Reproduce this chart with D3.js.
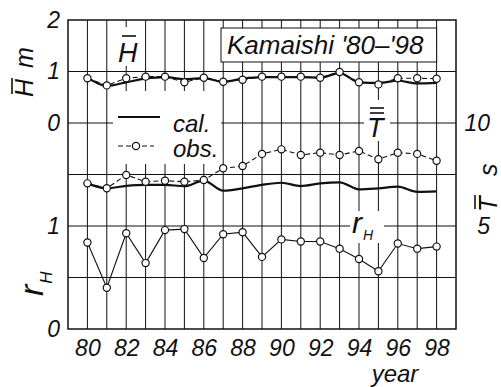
<!DOCTYPE html>
<html>
<head>
<meta charset="utf-8">
<script src="https://cdn.jsdelivr.net/npm/d3@7"></script>
<style>
  body { margin: 0; background: #fff; }
  svg { display: block; }
  text { font-family: "Liberation Sans", Arial, sans-serif; font-style: italic; fill: #111; }
</style>
</head>
<body>
<svg id="chart" width="501" height="387"></svg>
<script>
// data
const years = [80, 81, 82, 83, 84, 85, 86, 87, 88, 89, 90, 91, 92, 93, 94, 95, 96, 97, 98];
const hCal = [0.88, 0.72, 0.79, 0.86, 0.89, 0.85, 0.87, 0.80, 0.86, 0.89, 0.89, 0.89, 0.88, 0.97, 0.79, 0.78, 0.82, 0.77, 0.78];
const hObs = [0.87, 0.73, 0.87, 0.90, 0.90, 0.79, 0.88, 0.80, 0.84, 0.90, 0.90, 0.90, 0.88, 0.99, 0.79, 0.75, 0.87, 0.87, 0.86];
const tCal = [7.07, 6.83, 6.95, 7.0, 7.0, 6.93, 7.2, 6.71, 6.83, 7.0, 7.1, 6.94, 7.07, 7.12, 6.78, 6.83, 6.91, 6.66, 6.68];
const tObs = [7.07, 6.83, 7.48, 7.15, 7.2, 7.15, 7.23, 7.8, 7.91, 8.5, 8.72, 8.45, 8.56, 8.45, 8.64, 8.24, 8.56, 8.5, 8.17];
const rH = [0.84, 0.40, 0.93, 0.64, 0.96, 0.97, 0.69, 0.92, 0.94, 0.70, 0.87, 0.85, 0.85, 0.78, 0.68, 0.56, 0.83, 0.78, 0.80];

const xTicks = [80, 82, 84, 86, 88, 90, 92, 94, 96, 98];
const hTicks = [0, 1, 2];
const rTicks = [0, 1];
const tTicks = [5, 10];

const svg = d3.select("#chart");

const x = d3.scaleLinear().domain([79, 99]).range([68, 456]);
const yH = d3.scaleLinear().domain([0, 2]).range([123, 20]);
const yT = d3.scaleLinear().domain([0, 10]).range([329, 123]);
const yR = d3.scaleLinear().domain([0, 1]).range([329, 226]);

const xLeft = x.range()[0], xRight = x.range()[1], yTop = yH(2), yBottom = yR(0);
const fmt = d3.format("d");

// grid
const grid = svg.append("g").attr("stroke", "#111");
grid.selectAll("line.v")
  .data(years)
  .enter().append("line")
    .attr("x1", d => x(d)).attr("x2", d => x(d))
    .attr("y1", yTop).attr("y2", yBottom)
    .attr("stroke-width", 1);

const hLines = [yH(1), yH(0), yT(7.5), yT(5), yR(0.5)];
grid.selectAll("line.h")
  .data(hLines)
  .enter().append("line")
    .attr("x1", xLeft).attr("x2", xRight)
    .attr("y1", d => d).attr("y2", d => d)
    .attr("stroke-width", 1.2);

svg.append("rect")
  .attr("x", xLeft).attr("y", yTop)
  .attr("width", xRight - xLeft).attr("height", yBottom - yTop)
  .attr("fill", "none").attr("stroke", "#111").attr("stroke-width", 1.5);

// white patches behind labels
const patch = (x0, y0, w, h, border) => svg.append("rect")
  .attr("x", x0).attr("y", y0).attr("width", w).attr("height", h)
  .attr("fill", "#fff")
  .attr("stroke", border ? "#111" : "none").attr("stroke-width", 1);

patch(221, 28, x(98) - 221, 34, true);
patch(113, 27, 28, 39);
patch(113, 91, 108, 73);
patch(364, 100, 26, 41);
patch(350, 211, 34, 32);

// series
const lineCal = (yS, vals) => d3.line()
  .x((d, i) => x(years[i]))
  .y(d => yS(d))
  .curve(d3.curveMonotoneX)(vals);
const lineStraight = (yS, vals) => d3.line()
  .x((d, i) => x(years[i]))
  .y(d => yS(d))(vals);

svg.append("path").attr("d", lineCal(yH, hCal))
  .attr("fill", "none").attr("stroke", "#111").attr("stroke-width", 2.2);
svg.append("path").attr("d", lineCal(yT, tCal))
  .attr("fill", "none").attr("stroke", "#111").attr("stroke-width", 2.2);

svg.append("path").attr("d", lineStraight(yH, hObs))
  .attr("fill", "none").attr("stroke", "#111").attr("stroke-width", 1.1)
  .attr("stroke-dasharray", "5,3");
svg.append("path").attr("d", lineStraight(yT, tObs))
  .attr("fill", "none").attr("stroke", "#111").attr("stroke-width", 1.1)
  .attr("stroke-dasharray", "5,3");
svg.append("path").attr("d", lineStraight(yR, rH))
  .attr("fill", "none").attr("stroke", "#111").attr("stroke-width", 1.1);

const dots = (yS, vals) => svg.append("g")
  .selectAll("circle")
  .data(vals)
  .enter().append("circle")
    .attr("cx", (d, i) => x(years[i]))
    .attr("cy", d => yS(d))
    .attr("r", 3.6)
    .attr("fill", "#fff").attr("stroke", "#111").attr("stroke-width", 1.2);

dots(yH, hObs);
dots(yT, tObs);
dots(yR, rH);

// axes (labels only)
const styleAxis = g => {
  g.select(".domain").remove();
  g.selectAll("line").remove();
  g.selectAll("text").attr("font-size", 23).attr("font-family", null);
};

svg.append("g")
  .attr("transform", `translate(0,${yBottom})`)
  .call(d3.axisBottom(x).tickValues(xTicks).tickFormat(fmt).tickSize(0).tickPadding(11))
  .call(styleAxis);

svg.append("g")
  .attr("transform", `translate(${xLeft},0)`)
  .call(d3.axisLeft(yH).tickValues(hTicks).tickFormat(fmt).tickSize(0).tickPadding(8))
  .call(styleAxis);

svg.append("g")
  .attr("transform", `translate(${xLeft},0)`)
  .call(d3.axisLeft(yR).tickValues(rTicks).tickFormat(fmt).tickSize(0).tickPadding(8))
  .call(styleAxis);

svg.append("g")
  .attr("transform", `translate(${xRight},0)`)
  .call(d3.axisRight(yT).tickValues(tTicks).tickFormat(fmt).tickSize(0).tickPadding(0))
  .call(styleAxis)
  .call(g => g.selectAll("text").attr("text-anchor", "end").attr("x", 34));

svg.append("text")
  .attr("x", 395).attr("y", 382)
  .attr("text-anchor", "middle")
  .attr("font-size", 24)
  .text("year");

// title
svg.append("text")
  .attr("x", 227).attr("y", 54)
  .attr("font-size", 26)
  .text("Kamaishi '80\u2013'98");

// in-plot labels
svg.append("text").attr("x", 118).attr("y", 62).attr("font-size", 27).text("H");
svg.append("line").attr("x1", 122).attr("x2", 136).attr("y1", 36).attr("y2", 36)
  .attr("stroke", "#111").attr("stroke-width", 1.6);

svg.append("text").attr("x", 367).attr("y", 137).attr("font-size", 27).text("T");
[108, 113].forEach(yy => svg.append("line")
  .attr("x1", 370).attr("x2", 384).attr("y1", yy).attr("y2", yy)
  .attr("stroke", "#111").attr("stroke-width", 1.6));

const rLab = svg.append("text").attr("x", 352).attr("y", 233).attr("font-size", 30);
rLab.append("tspan").text("r");
rLab.append("tspan").attr("font-size", 14).attr("dy", 7).attr("dx", 1).text("H");

// legend
svg.append("line").attr("x1", 118).attr("x2", 160).attr("y1", 117).attr("y2", 117)
  .attr("stroke", "#111").attr("stroke-width", 2.2);
svg.append("text").attr("x", 173).attr("y", 132).attr("font-size", 24).text("cal.");
svg.append("line").attr("x1", 118).attr("x2", 154).attr("y1", 146).attr("y2", 146)
  .attr("stroke", "#111").attr("stroke-width", 1.1).attr("stroke-dasharray", "5,3");
svg.append("circle").attr("cx", 136).attr("cy", 146).attr("r", 3.6)
  .attr("fill", "#fff").attr("stroke", "#111").attr("stroke-width", 1.2);
svg.append("text").attr("x", 173).attr("y", 157).attr("font-size", 24).text("obs.");

// rotated axis titles
const hT = svg.append("g").attr("transform", "translate(33,97) rotate(-90)");
hT.append("text").attr("x", 0).attr("y", 0).attr("font-size", 25).text("H");
hT.append("line").attr("x1", 3).attr("x2", 19).attr("y1", -21).attr("y2", -21)
  .attr("stroke", "#111").attr("stroke-width", 1.6);
hT.append("text").attr("x", 29).attr("y", 0).attr("font-size", 25).text("m");

const rT = svg.append("g").attr("transform", "translate(43,296) rotate(-90)");
const rTxt = rT.append("text").attr("font-size", 34);
rTxt.append("tspan").text("r");
rTxt.append("tspan").attr("font-size", 17).attr("dy", 9).attr("dx", 1).text("H");

const tT = svg.append("g").attr("transform", "translate(497,212) rotate(-90)");
tT.append("text").attr("x", 0).attr("y", 0).attr("font-size", 25).text("T");
[-22, -17].forEach(yy => tT.append("line")
  .attr("x1", 3).attr("x2", 17).attr("y1", yy).attr("y2", yy)
  .attr("stroke", "#111").attr("stroke-width", 1.6));
tT.append("text").attr("x", 36).attr("y", 0).attr("font-size", 25).text("s");
</script>
</body>
</html>
